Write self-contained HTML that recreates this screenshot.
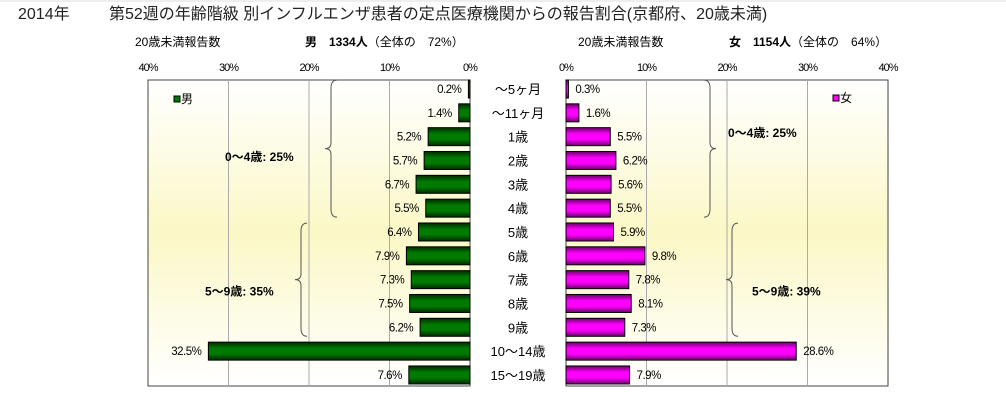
<!DOCTYPE html>
<html><head><meta charset="utf-8"><style>
body{margin:0;width:1006px;height:400px;background:#fff;overflow:hidden;font-family:"Liberation Sans","Noto Sans CJK JP",sans-serif}
svg text{font-family:"Liberation Sans","Noto Sans CJK JP",sans-serif}
</style></head><body>
<svg id="c" width="1006" height="400">
<defs>
<linearGradient id="bg" x1="0" y1="0" x2="0" y2="1"><stop offset="0" stop-color="#ffffff"/><stop offset="0.5" stop-color="#fbf8c6"/><stop offset="1" stop-color="#ffffff"/></linearGradient>
<linearGradient id="gm" x1="0" y1="0" x2="0" y2="1"><stop offset="0" stop-color="#002a00"/><stop offset="0.35" stop-color="#007a00"/><stop offset="0.65" stop-color="#007a00"/><stop offset="1" stop-color="#002a00"/></linearGradient>
<linearGradient id="gf" x1="0" y1="0" x2="0" y2="1"><stop offset="0" stop-color="#6a006a"/><stop offset="0.35" stop-color="#ff00ff"/><stop offset="0.65" stop-color="#ff00ff"/><stop offset="1" stop-color="#6a006a"/></linearGradient>
</defs>
<line x1="0" y1="1" x2="1006" y2="1" stroke="#ddd"/>
<text x="18" y="19" font-size="16" fill="#222">2014年</text>
<text x="109" y="19" font-size="16" fill="#222">第52週の年齢階級 別インフルエンザ患者の定点医療機関からの報告割合(京都府、20歳未満)</text>
<text x="135" y="46" font-size="12">20歳未満報告数</text>
<text x="305" y="46" font-size="12"><tspan font-weight="bold">男　1334人</tspan>（全体の　72%）</text>
<text x="578" y="46" font-size="12">20歳未満報告数</text>
<text x="729" y="46" font-size="12"><tspan font-weight="bold">女　1154人</tspan>（全体の　64%）</text>
<g id="g"></g>
</svg>
<script>
const categories=["～5ヶ月","～11ヶ月","1歳","2歳","3歳","4歳","5歳","6歳","7歳","8歳","9歳","10～14歳","15～19歳"];
const maleValues=[0.2,1.4,5.2,5.7,6.7,5.5,6.4,7.9,7.3,7.5,6.2,32.5,7.6];
const femaleValues=[0.3,1.6,5.5,6.2,5.6,5.5,5.9,9.8,7.8,8.1,7.3,28.6,7.9];
const tickValues=[0,10,20,30,40];
const tickLabels=["0%","10%","20%","30%","40%"];
const groupLabels=["0～4歳: 25%","5～9歳: 35%","0～4歳: 25%","5～9歳: 39%"];
const NS="http://www.w3.org/2000/svg",g=document.getElementById('g');
const top_=80,bot=386,rowH=23.83,row0=89;
const L0=470,R0=566,k=8.05;
const xl=v=>L0-v*k, xr=v=>R0+v*k, yc=i=>row0+rowH*i;
function mk(t,a,p){const e=document.createElementNS(NS,t);for(const n in a)e.setAttribute(n,a[n]);(p||g).appendChild(e);return e;}
let e;
e=mk('rect',{x:xl(40),y:top_,width:xl(0)-xl(40),height:bot-top_,fill:'url(#bg)',stroke:'#444'});


e=mk('rect',{x:xr(0),y:top_,width:xr(40)-xr(0),height:bot-top_,fill:'url(#bg)',stroke:'#444'});


tickValues.forEach((v,j)=>{
 if(v>0&&v<40){
  e=mk('line',{x1:xl(v),x2:xl(v),y1:top_,y2:bot,stroke:'#aaa'});
  
  
  e=mk('line',{x1:xr(v),x2:xr(v),y1:top_,y2:bot,stroke:'#aaa'});
  
  
 }
 e=mk('text',{x:xl(v),y:71,'font-size':11,'text-anchor':'middle','letter-spacing':'-1'});e.textContent=tickLabels[j];
 
 
 e=mk('text',{x:xr(v),y:71,'font-size':11,'text-anchor':'middle','letter-spacing':'-1'});e.textContent=tickLabels[j];
 
 
});
const bh=18;
categories.forEach((c,i)=>{
 const y=yc(i);
 e=mk('rect',{x:xl(maleValues[i]),y:y-bh/2,width:maleValues[i]*k,height:bh,fill:'url(#gm)',stroke:'#000','stroke-width':1});
 
 
 e=mk('text',{x:xl(maleValues[i])-7,y:y+4,'font-size':11.5,'text-anchor':'end','letter-spacing':'-0.5'});e.textContent=maleValues[i].toFixed(1)+'%';
 
 
 e=mk('rect',{x:xr(0),y:y-bh/2,width:femaleValues[i]*k,height:bh,fill:'url(#gf)',stroke:'#000','stroke-width':1});
 
 
 e=mk('text',{x:xr(femaleValues[i])+7,y:y+4,'font-size':11.5,'letter-spacing':'-0.5'});e.textContent=femaleValues[i].toFixed(1)+'%';
 
 
 e=mk('text',{x:518,y:y+5,'font-size':13,'text-anchor':'middle'});e.textContent=c;
 
 
});
function brace(x,i0,i1,dir,name){
 const y0=yc(i0)-rowH/2+3,y1=yc(i1)+rowH/2-3,m=(y0+y1)/2,d=dir*6;
 e=mk('path',{d:`M${x+d} ${y0} Q${x} ${y0} ${x} ${y0+8} L${x} ${m-6} Q${x} ${m} ${x-d} ${m} Q${x} ${m} ${x} ${m+6} L${x} ${y1-8} Q${x} ${y1} ${x+d} ${y1}`,fill:'none',stroke:'#555','stroke-width':1});
 
 
}
brace(331,0,5,1,'male-0-4-brace');
brace(301,6,10,1,'male-5-9-brace');
brace(710,0,5,-1,'female-0-4-brace');
brace(732,6,10,1,'female-5-9-brace');
[[225,yc(2.85)],[205,yc(8.5)],[728,yc(1.85)],[752,yc(8.5)]].forEach((p,j)=>{
 e=mk('text',{x:p[0],y:p[1]+4,'font-size':12,'font-weight':'bold'});e.textContent=groupLabels[j];
 
 
});
e=mk('rect',{x:174,y:96,width:6,height:6,fill:'#007a00',stroke:'#000'});


e=mk('text',{x:181,y:103,'font-size':12});e.textContent='男';


e=mk('rect',{x:833,y:95,width:6,height:6,fill:'#ff00ff',stroke:'#000'});


e=mk('text',{x:840,y:102,'font-size':12});e.textContent='女';


</script>
</body></html>
